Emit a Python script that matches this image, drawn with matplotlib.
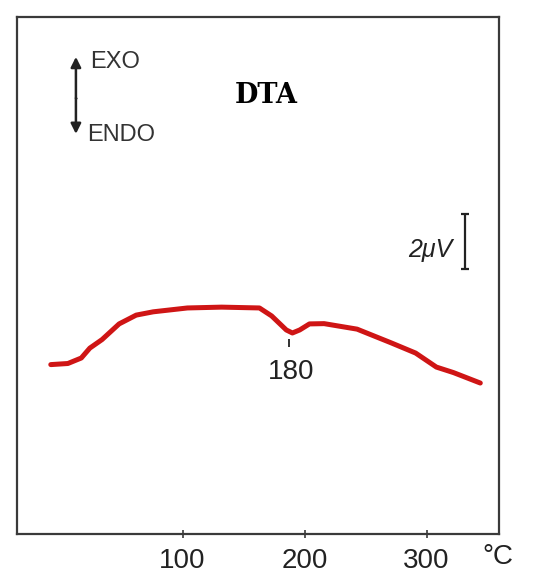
import numpy as np
import matplotlib.pyplot as plt

#DTA trace (temperature in C, signal in uV above the bottom of the frame)
temps=[-8,6,17,24,34,48,62,76,104,132,163,173,185,190,196,204,216,243,271,291,308,322,344]
signal=[6.16,6.20,6.40,6.76,7.07,7.64,7.96,8.08,8.22,8.25,8.22,7.93,7.42,7.31,7.42,7.64,7.65,7.45,6.95,6.58,6.07,5.87,5.49]

#axis ticks and annotations
xTicks=[100,200,300]
peakTemp=187
peakLabel="180"
scaleBar=2   #uV
title="DTA"

#fonts
numFont=['Liberation Sans','DejaVu Sans']


def main():
    fig=plt.figure(figsize=(5.34,5.81),dpi=100)
    ax=fig.add_axes([0.0318,0.0809,0.9026,0.8898])

    #the curve
    ax.plot(temps,signal,color="#cf1515",lw=3.6,solid_joinstyle="round",solid_capstyle="round")

    ax.set_xlim(-35.7,359.3)
    ax.set_ylim(0,18.8)

    #frame
    for s in ax.spines.values():
        s.set_color("#3a3a3a")
        s.set_linewidth(1.6)

    ax.set_xticks(xTicks)
    ax.set_xticklabels([str(t) for t in xTicks],family=numFont,fontsize=20,color="#222222")
    ax.tick_params(axis="x",direction="inout",length=6,width=1.2,color="#3a3a3a",pad=7)
    ax.set_yticks([])

    #unit label at the end of the axis
    ax.text(358,-0.044,"°C",transform=ax.get_xaxis_transform(),ha="center",va="center",
            family=numFont,fontsize=20,color="#222222")

    #peak marker + label
    ax.vlines(peakTemp,6.8,7.09,color="#222222",lw=1.3)
    ax.text(peakTemp+2,5.89,peakLabel,ha="center",va="center",family=numFont,fontsize=20,color="#222222")

    #2 uV scale bar
    barX=331.5
    barTop=11.64
    ax.vlines(barX,barTop-scaleBar,barTop,color="#222222",lw=1.6)
    ax.hlines([barTop-scaleBar,barTop],barX-3,barX+3,color="#222222",lw=1.6)
    ax.text(321,10.33,"2μV",ha="right",va="center",family=numFont,fontsize=18,style="italic",color="#222222")

    #EXO / ENDO arrow
    arrowX=12.6
    ax.annotate("",xy=(arrowX,17.35),xytext=(arrowX,15.85),
                arrowprops=dict(arrowstyle="-|>",color="#222222",lw=1.8,mutation_scale=15,shrinkA=0,shrinkB=0))
    ax.annotate("",xy=(arrowX,14.55),xytext=(arrowX,15.85),
                arrowprops=dict(arrowstyle="-|>",color="#222222",lw=1.8,mutation_scale=15,shrinkA=0,shrinkB=0))
    ax.hlines(15.85,arrowX-1.1,arrowX+1.1,color="#222222",lw=1.0)
    ax.text(24.1,17.16,"EXO",ha="left",va="center",family=numFont,fontsize=17,color="#333333")
    ax.text(21.6,14.5,"ENDO",ha="left",va="center",family=numFont,fontsize=17,color="#333333")

    #title inside the frame
    ax.text(168.4,15.96,title,ha="center",va="center",family="DejaVu Serif",fontweight="bold",fontsize=19.5,color="black")

    fig.savefig("out.png",dpi=100)


main()
